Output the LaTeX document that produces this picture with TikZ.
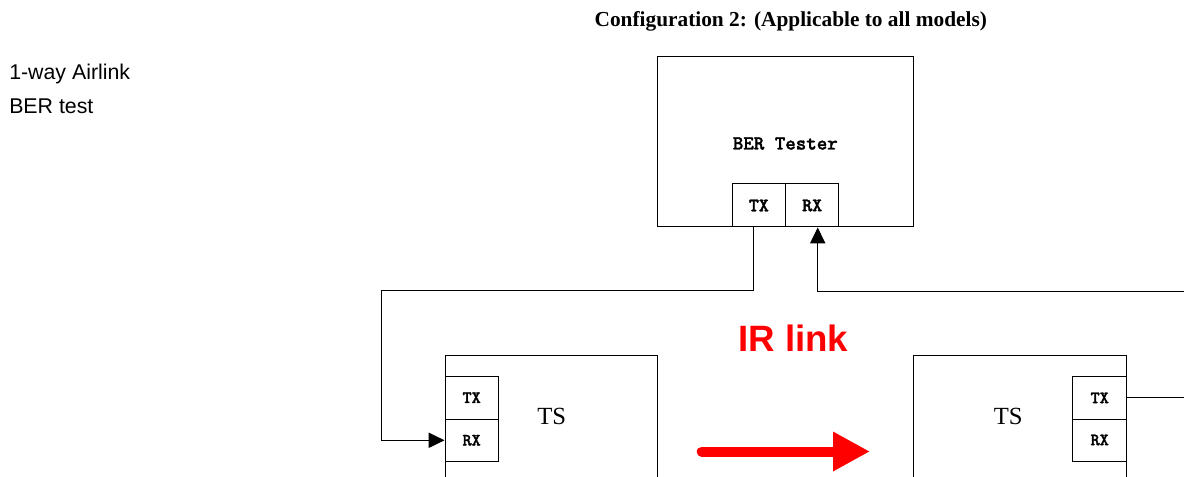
\documentclass[tikz,border=0pt]{standalone}
\usepackage{fontspec}
\setmainfont{Liberation Serif}
\newfontfamily\sansf{Liberation Sans}
\newfontfamily\monof[FakeBold=1.6]{lmmonolt10-bold.otf}
\usetikzlibrary{arrows.meta,fit,calc}
\begin{document}
\begin{tikzpicture}[x=0.75pt,y=-0.75pt,
  box/.style={draw=black, line width=0.75pt, inner sep=0pt, fill=white},
  port/.style={box, font=\monof\fontsize{13}{15}\selectfont},
  bport/.style={port, font=\monof\fontsize{14.3}{16}\selectfont},
  conn/.style={draw=black, line width=0.75pt},
  blktip/.style={-{Triangle[length=12pt,width=11.5pt]}},
  tslabel/.style={anchor=base, inner sep=0pt, font=\fontsize{18.5}{22}\selectfont},
  sidetext/.style={anchor=base west, inner sep=0pt, font=\sansf\fontsize{16}{19}\selectfont}]
\useasboundingbox (0,0) rectangle (1184,477);
\clip (0,0) rectangle (1184,477);

% texts
\node[anchor=base, inner sep=0pt, font=\bfseries\fontsize{16}{19}\selectfont] (title) at (790.8,26.7) {Configuration 2: (Applicable to all models)};
\node[sidetext] (side1) at (9,79.3) {1-way Airlink};
\node[sidetext] (side2) at (9,113.3) {BER test};

% BER tester
\node[box, fit={(657.7,56.7) (913,227)}] (ber) {};
\node[anchor=base, inner sep=0pt, font=\monof\fontsize{15}{17}\selectfont] (berlabel) at (785.3,149.5) {BER Tester};
\node[bport, minimum width={53.7*0.75pt}, minimum height={43*0.75pt}] (bertx) at (758.85,205.5) {TX};
\node[bport, minimum width={53*0.75pt}, minimum height={43*0.75pt}] (berrx) at (812.2,205.5) {RX};

% left TS
\node[box, fit={(445,355) (657.3,540)}] (lts) {};
\node[port, minimum width={53.3*0.75pt}, minimum height={43.3*0.75pt}] (ltx) at (471.65,397.65) {TX};
\node[port, minimum width={53.3*0.75pt}, minimum height={42*0.75pt}] (lrx) at (471.65,440.3) {RX};
\node[tslabel] (ltslabel) at (551.7,424.3) {TS};

% right TS
\node[box, fit={(913.3,355) (1126.7,540)}] (rts) {};
\node[port, minimum width={54*0.75pt}, minimum height={42.3*0.75pt}] (rtx) at (1099.7,397.85) {TX};
\node[port, minimum width={54*0.75pt}, minimum height={42*0.75pt}] (rrx) at (1099.7,440) {RX};
\node[tslabel] (rtslabel) at (1008.3,424.7) {TS};

% connectors
\coordinate (lcorner) at (381,290.7);
\draw[conn, blktip] ($(bertx.south)+(-5.5,0)$) |- (lcorner) |- (lrx.west);
\draw[conn, blktip] (rtx.east) -- ++(90,0) |- ($(berrx.south)+(5.5,63.7)$) -- ($(berrx.south)+(5.5,0)$);

% IR link
\node[anchor=base, inner sep=0pt, text=red, font=\sansf\bfseries\fontsize{27.5}{31}\selectfont] (irlabel) at (793.3,351) {IR link};
\coordinate (irstart) at (701.7,451.5);
\coordinate (irend) at (870,451.5);
\draw[red, line width=7.5pt, line cap=round, -{Triangle[length=27.75pt,width=27.75pt]}] (irstart) -- (irend);
\end{tikzpicture}
\end{document}
